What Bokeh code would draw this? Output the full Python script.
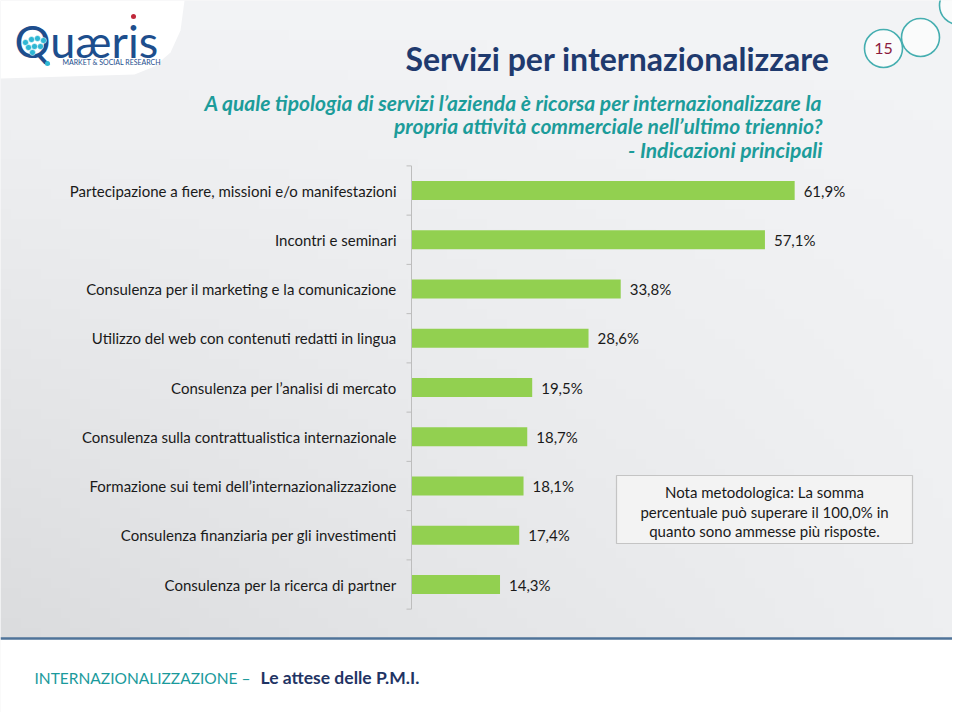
import numpy as np
from bokeh.plotting import figure
from bokeh.models import Range1d
from bokeh.core.properties import value
from bokeh.embed import file_html
from bokeh.resources import INLINE

# ---------------- data ----------------
categories = [
    "Partecipazione a fiere, missioni e/o manifestazioni",
    "Incontri e seminari",
    "Consulenza per il marketing e la comunicazione",
    "Utilizzo del web con contenuti redatti in lingua",
    "Consulenza per l’analisi di mercato",
    "Consulenza sulla contrattualistica internazionale",
    "Formazione sui temi dell’internazionalizzazione",
    "Consulenza finanziaria per gli investimenti",
    "Consulenza per la ricerca di partner",
]
values = [61.9, 57.1, 33.8, 28.6, 19.5, 18.7, 18.1, 17.4, 14.3]
value_labels = [f"{v:.1f}".replace(".", ",") + "%" for v in values]

title = "Servizi per internazionalizzare"
subtitle = [
    "A quale tipologia di servizi l’azienda è ricorsa per internazionalizzare la",
    "propria attività commerciale nell’ultimo triennio?",
    "- Indicazioni principali",
]
note = [
    "Nota metodologica: La somma",
    "percentuale può superare il 100,0% in",
    "quanto sono ammesse più risposte.",
]
page_number = "15"
footer_left = "INTERNAZIONALIZZAZIONE –"
footer_right = "Le attese delle P.M.I."

# ---------------- layout ----------------
W, H = 952, 712
FONT = value("Lato")
X0, KX = 411.0, 6.19      # page px of 0 %, px per %
Y0, KY = 190.0, 49.25     # page px of first category, px per category

x_range = Range1d((0 - X0) / KX, (W - X0) / KX)
y_range = Range1d((H - Y0) / KY, (0 - Y0) / KY)

p = figure(width=W, height=H, x_range=x_range, y_range=y_range,
           x_axis_location=None, y_axis_location=None,
           output_backend="svg", toolbar_location=None, min_border=0,
           outline_line_color=None, background_fill_color="#f1f2f4",
           border_fill_color="#ffffff")
p.grid.visible = False
p.extra_x_ranges = {"px": Range1d(0, W)}
p.extra_y_ranges = {"py": Range1d(0, H)}


def Y(y):
    return H - y


PX = dict(x_range_name="px", y_range_name="py")

# background gradient (upper area)
gh, gw = 64, 96
img = np.empty((gh, gw), dtype=np.uint32)
view = img.view(dtype=np.uint8).reshape((gh, gw, 4))
for i in range(gh):
    yn = 1 - (i + 0.5) / gh          # 0 top, 1 bottom
    for j in range(gw):
        xn = (j + 0.5) / gw
        v = 245 - 24 * yn * (1 - 0.8 * xn)
        view[i, j, 0] = int(v - 2)
        view[i, j, 1] = int(v - 1)
        view[i, j, 2] = int(min(255, v + 1))
        view[i, j, 3] = 255
p.image_rgba(image=[img], x=0, y=Y(638), dw=W, dh=638, **PX)

# footer area
p.quad(left=0, right=W, bottom=0, top=Y(638), fill_color="#ffffff",
       line_color=None, **PX)
p.segment(x0=0, y0=Y(638), x1=W, y1=Y(638), line_color="#4f7399",
          line_width=2.5, **PX)

# white blob behind logo
blob_x = [0, 184, 180, 170, 154, 134, 0]
blob_y = [Y(0), Y(0), Y(30), Y(52), Y(66), Y(74), Y(78)]
p.patch(blob_x, blob_y, fill_color="#ffffff", line_color=None, **PX)

# logo
p.text(x=[14], y=[Y(40)], text=["Quæris"], text_font=value("Lato"),
       text_font_size="45px", text_color="#1d4e8d", text_baseline="middle",
       text_align="left", **PX)
p.text(x=[62], y=[Y(61)], text=["MARKET & SOCIAL RESEARCH"], text_font=FONT,
       text_font_size="7px", text_color="#1d4e8d", text_baseline="middle",
       **PX)
p.scatter(x=[133], y=[Y(16)], size=5, fill_color="#c0283a", line_color=None, **PX)
p.scatter(x=[25, 31, 37, 43, 28, 34, 40, 32], y=[Y(42), Y(39), Y(38), Y(40), Y(47), Y(46), Y(46), Y(52)],
          size=6, fill_color="#2fb7d4", line_color="#ffffff", line_width=0.5, **PX)
p.scatter(x=[47], y=[Y(63)], size=5, fill_color="#2fb7d4", line_color=None, **PX)

# page circles
p.scatter(x=[883, 920, 958], y=[Y(48), Y(37), Y(5)], size=38,
          fill_color="#fafbfb", line_color="#45aeb0", line_width=1.6, **PX)
p.text(x=[883], y=[Y(48)], text=[page_number], text_font=FONT,
       text_font_size="16px", text_color="#8b1a3d", text_align="center",
       text_baseline="middle", **PX)

# title & subtitle
p.text(x=[829], y=[Y(58)], text=[title], text_font=FONT, text_font_style="bold",
       text_font_size="32px", text_color="#1f3a6e", text_align="right",
       text_baseline="middle", **PX)
p.text(x=[822, 822, 822], y=[Y(102), Y(125), Y(149)], text=subtitle,
       text_font=FONT, text_font_style="bold italic", text_font_size="21px",
       text_color="#1c9c9a", text_align="right", text_baseline="middle", **PX)

# ---------------- chart ----------------
idx = list(range(len(categories)))
p.hbar(y=idx, left=0, right=values, height=19 / KY, fill_color="#92d050",
       line_color=None)

# axis line and ticks
n = len(categories)
p.segment(x0=[0], y0=[-0.5], x1=[0], y1=[n - 0.5], line_color="#bdbdbd", line_width=1)
tick_y = [k - 0.5 for k in range(n + 1)]
p.segment(x0=[-5 / KX] * len(tick_y), y0=tick_y, x1=[0] * len(tick_y), y1=tick_y,
          line_color="#bdbdbd", line_width=1)

p.text(x=[0] * n, y=idx, text=categories, x_offset=-15, text_font=FONT,
       text_font_size="15px", text_color="#1a1a1a", text_align="right",
       text_baseline="middle")
p.text(x=values, y=idx, text=value_labels, x_offset=9, text_font=FONT,
       text_font_size="15px", text_color="#1a1a1a", text_align="left",
       text_baseline="middle")

# note box
p.quad(left=616, right=912, bottom=Y(543), top=Y(475), fill_color="#f3f3f3",
       line_color="#c4c4c4", line_width=1.2, **PX)
p.text(x=[764] * 3, y=[Y(491), Y(511), Y(530)], text=note, text_font=FONT,
       text_font_size="15px", text_color="#1a1a1a", text_align="center",
       text_baseline="middle", **PX)

# footer texts
p.text(x=[34], y=[Y(677)], text=[footer_left], text_font=FONT,
       text_font_size="15.5px", text_color="#1a9a9c", text_baseline="middle", **PX)
p.text(x=[260], y=[Y(677)], text=[footer_right], text_font=FONT,
       text_font_style="bold", text_font_size="17.5px", text_color="#1f3464",
       text_baseline="middle", **PX)

open("out.html", "w").write(file_html(p, INLINE))
